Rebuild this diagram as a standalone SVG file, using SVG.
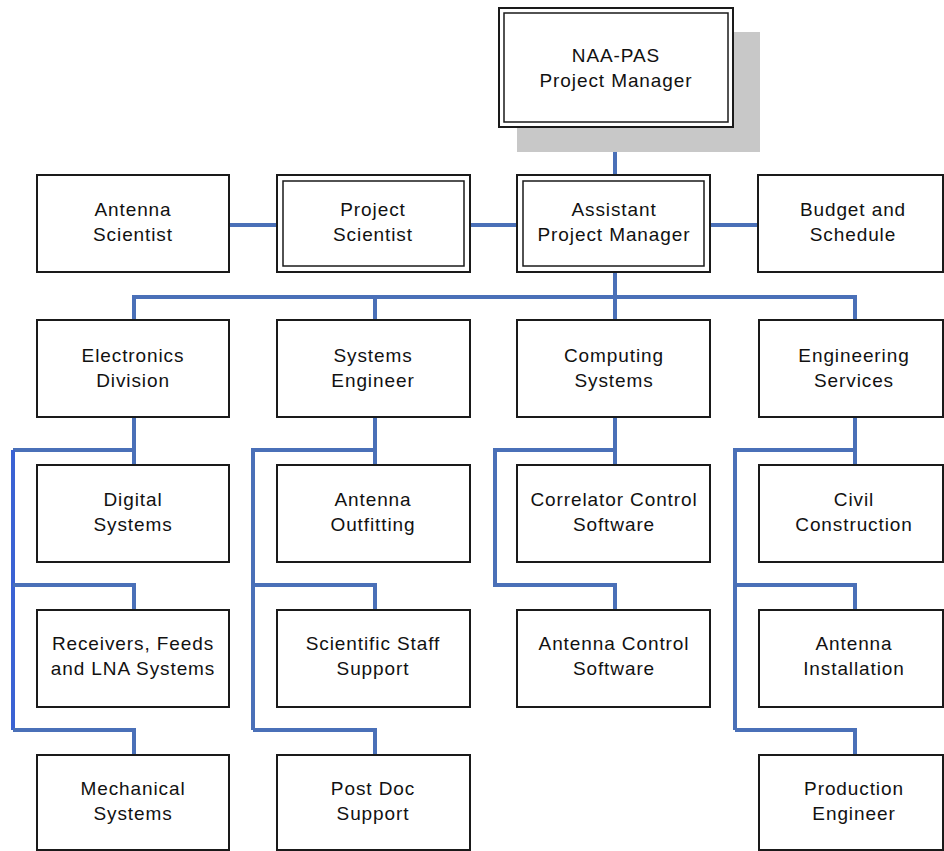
<svg xmlns="http://www.w3.org/2000/svg" width="944" height="851" viewBox="0 0 944 851">
<style>
.bg{fill:#ffffff}
.box{fill:#ffffff;stroke:#1a1a1a;stroke-width:2}
.inner{fill:none;stroke:#1a1a1a;stroke-width:1.5}
.shadow{fill:#c8c8c8}
.c{fill:none;stroke:#4a70b8;stroke-width:4;stroke-linejoin:miter}
.c2{fill:none;stroke:#3a62d4;stroke-width:4}
text{font-family:"Liberation Sans",Arial,sans-serif;font-size:19px;letter-spacing:0.9px;fill:#111;text-anchor:middle}
</style>
<rect class="bg" x="0" y="0" width="944" height="851"/>
<g id="connectors">
  <path class="c" d="M615,127 V175"/>
  <path class="c" d="M229,225 H277"/>
  <path class="c" d="M470,225 H517"/>
  <path class="c" d="M710,225 H758"/>
  <path class="c" d="M615,272 V297 M134,320 V297 H855 V320 M375,297 V320 M615,297 V320"/>
  <path class="c" d="M134,417 V465 M134,450 H13"/>
  <path class="c2" d="M13,450 V730"/>
  <path class="c" d="M13,585 H134 V610 M13,730 H134 V755"/>
  <path class="c" d="M375,417 V465 M375,450 H253 V730 M253,585 H375 V610 M253,730 H375 V755"/>
  <path class="c" d="M615,417 V465 M615,450 H495 V585 H615 V610"/>
  <path class="c" d="M855,417 V465 M855,450 H735 V730 M735,585 H855 V610 M735,730 H855 V755"/>
</g>
<g id="pm">
  <rect class="shadow" x="517" y="32" width="243" height="120"/>
  <rect class="box" x="499" y="8" width="234" height="119"/>
  <rect class="inner" x="504" y="13" width="224" height="109"/>
  <text x="616" y="62">NAA-PAS</text>
  <text x="616" y="87">Project Manager</text>
</g>
<g id="antenna-scientist">
  <rect class="box" x="37" y="175" width="192" height="97"/>
  <text x="133" y="216">Antenna</text>
  <text x="133" y="241">Scientist</text>
</g>
<g id="project-scientist">
  <rect class="box" x="277" y="175" width="193" height="97"/>
  <rect class="inner" x="283" y="181" width="181" height="85"/>
  <text x="373" y="216">Project</text>
  <text x="373" y="241">Scientist</text>
</g>
<g id="apm">
  <rect class="box" x="517" y="175" width="193" height="97"/>
  <rect class="inner" x="523" y="181" width="181" height="85"/>
  <text x="614" y="216">Assistant</text>
  <text x="614" y="241">Project Manager</text>
</g>
<g id="budget">
  <rect class="box" x="758" y="175" width="185" height="97"/>
  <text x="853" y="216">Budget and</text>
  <text x="853" y="241">Schedule</text>
</g>
<g id="electronics">
  <rect class="box" x="37" y="320" width="192" height="97"/>
  <text x="133" y="362">Electronics</text>
  <text x="133" y="387">Division</text>
</g>
<g id="systems-engineer">
  <rect class="box" x="277" y="320" width="193" height="97"/>
  <text x="373" y="362">Systems</text>
  <text x="373" y="387">Engineer</text>
</g>
<g id="computing">
  <rect class="box" x="517" y="320" width="193" height="97"/>
  <text x="614" y="362">Computing</text>
  <text x="614" y="387">Systems</text>
</g>
<g id="engineering-services">
  <rect class="box" x="759" y="320" width="184" height="97"/>
  <text x="854" y="362">Engineering</text>
  <text x="854" y="387">Services</text>
</g>
<g id="digital">
  <rect class="box" x="37" y="465" width="192" height="97"/>
  <text x="133" y="506">Digital</text>
  <text x="133" y="531">Systems</text>
</g>
<g id="antenna-outfitting">
  <rect class="box" x="277" y="465" width="193" height="97"/>
  <text x="373" y="506">Antenna</text>
  <text x="373" y="531">Outfitting</text>
</g>
<g id="correlator">
  <rect class="box" x="517" y="465" width="193" height="97"/>
  <text x="614" y="506">Correlator Control</text>
  <text x="614" y="531">Software</text>
</g>
<g id="civil">
  <rect class="box" x="759" y="465" width="184" height="97"/>
  <text x="854" y="506">Civil</text>
  <text x="854" y="531">Construction</text>
</g>
<g id="receivers">
  <rect class="box" x="37" y="610" width="192" height="97"/>
  <text x="133" y="650">Receivers, Feeds</text>
  <text x="133" y="675">and LNA Systems</text>
</g>
<g id="staff-support">
  <rect class="box" x="277" y="610" width="193" height="97"/>
  <text x="373" y="650">Scientific Staff</text>
  <text x="373" y="675">Support</text>
</g>
<g id="antenna-control">
  <rect class="box" x="517" y="610" width="193" height="97"/>
  <text x="614" y="650">Antenna Control</text>
  <text x="614" y="675">Software</text>
</g>
<g id="antenna-installation">
  <rect class="box" x="759" y="610" width="184" height="97"/>
  <text x="854" y="650">Antenna</text>
  <text x="854" y="675">Installation</text>
</g>
<g id="mechanical">
  <rect class="box" x="37" y="755" width="192" height="95"/>
  <text x="133" y="795">Mechanical</text>
  <text x="133" y="820">Systems</text>
</g>
<g id="postdoc">
  <rect class="box" x="277" y="755" width="193" height="95"/>
  <text x="373" y="795">Post Doc</text>
  <text x="373" y="820">Support</text>
</g>
<g id="production">
  <rect class="box" x="759" y="755" width="184" height="95"/>
  <text x="854" y="795">Production</text>
  <text x="854" y="820">Engineer</text>
</g>
</svg>
